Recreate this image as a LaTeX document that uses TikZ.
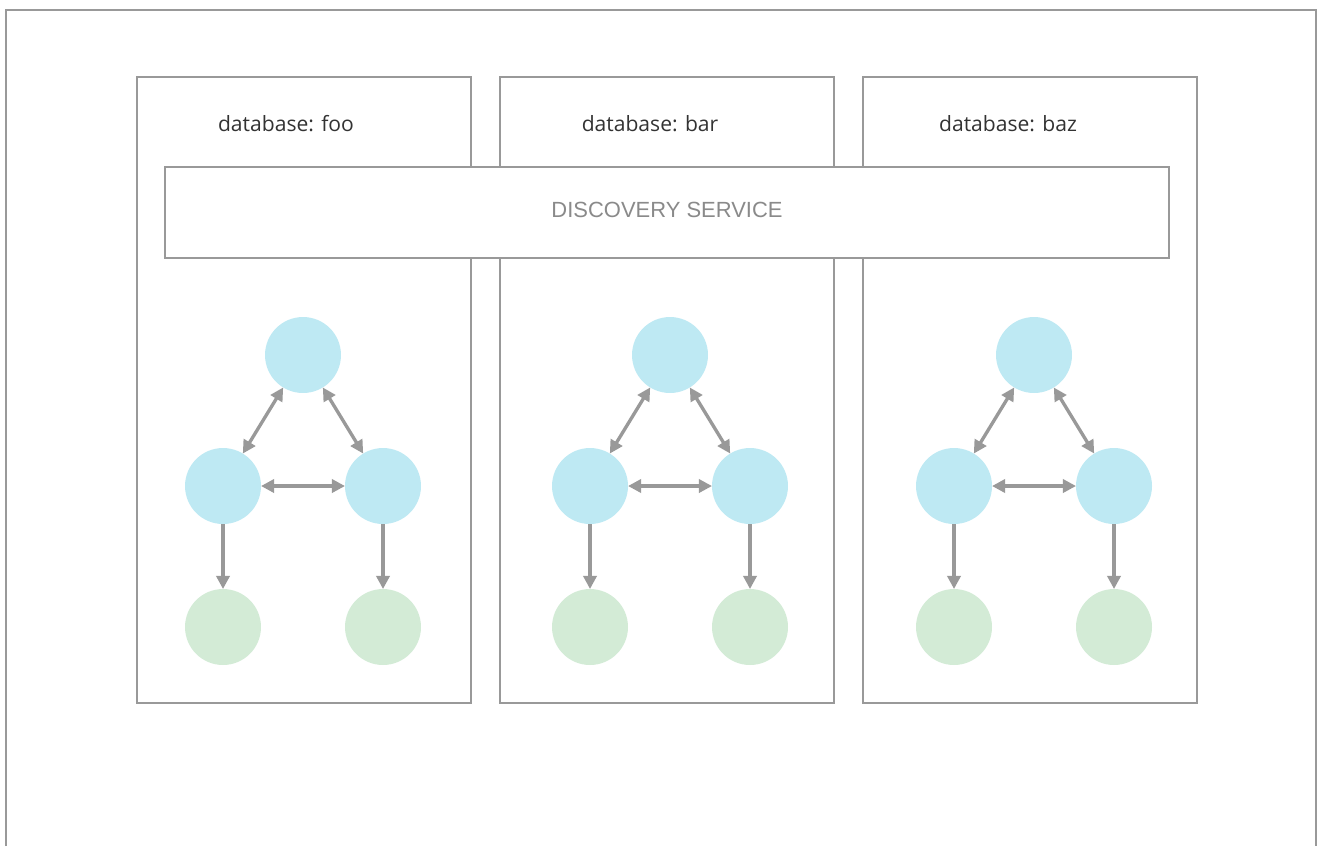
\documentclass[tikz,border=0pt]{standalone}
\usepackage{fontspec}
\setmainfont{Open Sans}
\newfontfamily\labelfont{Liberation Sans}
\usetikzlibrary{calc}
\usetikzlibrary{arrows.meta}
\definecolor{linegray}{RGB}{153,153,153}
\definecolor{textgray}{RGB}{51,51,51}
\definecolor{svcgray}{RGB}{138,138,138}
\definecolor{nodeblue}{RGB}{190,233,243}
\definecolor{nodegreen}{RGB}{211,235,214}
\tikzset{
	dbbox/.style={draw=linegray, line width=0.85pt, minimum width=6.68cm, minimum height=12.52cm, inner sep=0pt},
	svcbox/.style={draw=linegray, line width=0.85pt, fill=white, minimum width=20.08cm, minimum height=1.82cm, inner sep=0pt},
	member/.style={circle, fill=nodeblue, minimum size=1.52cm, inner sep=0pt, outer sep=0pt},
	replica/.style={circle, fill=nodegreen, minimum size=1.52cm, inner sep=0pt, outer sep=0pt},
	link/.style={draw=linegray, line width=1.9pt, {Triangle[length=7.5pt,width=7.5pt]}-{Triangle[length=7.5pt,width=7.5pt]}},
	feed/.style={draw=linegray, line width=1.9pt, -{Triangle[length=7.5pt,width=7.5pt]}}
}
\begin{document}
\begin{tikzpicture}[x=0.02cm, y=-0.02cm]
		\useasboundingbox (0,0) rectangle (1317,846);
%		outer frame
		\draw[linegray, line width=1.1pt] (6,846) -- (6,10) -- (1316,10) -- (1316,846);
		
%		database boxes
		\foreach \db/\cx/\lx in {foo/304/286, bar/667/650, baz/1030/1008} {
			\node[dbbox] (box-\db) at (\cx,390) {};
			\node[textgray, font=\fontsize{12}{15}\selectfont] (name-\db) at (\lx,124) {database: \db};
		}
		
%		discovery service on top
		\node[svcbox] (svc) at (667,212.5) {};
		\node[svcgray, font=\labelfont\fontsize{12.5}{15}\selectfont] (svc-label) at (667,210) {DISCOVERY SERVICE};
		
%		members and replicas
		\foreach \db/\tx in {foo/303, bar/670, baz/1034} {
			\coordinate (a-\db) at (\tx,355);
			\node[member] (top-\db) at (a-\db) {};
			\node[member] (left-\db) at ($(a-\db)+(-80,131)$) {};
			\node[member] (right-\db) at ($(a-\db)+(80,131)$) {};
			\node[replica] (rep1-\db) at ($(a-\db)+(-80,272)$) {};
			\node[replica] (rep2-\db) at ($(a-\db)+(80,272)$) {};
%			gossip between members
			\draw[link] (top-\db) -- (left-\db);
			\draw[link] (top-\db) -- (right-\db);
			\draw[link] (left-\db) -- (right-\db);
%			replication
			\draw[feed] (left-\db) -- (rep1-\db);
			\draw[feed] (right-\db) -- (rep2-\db);
		}
	\end{tikzpicture}
\end{document}
